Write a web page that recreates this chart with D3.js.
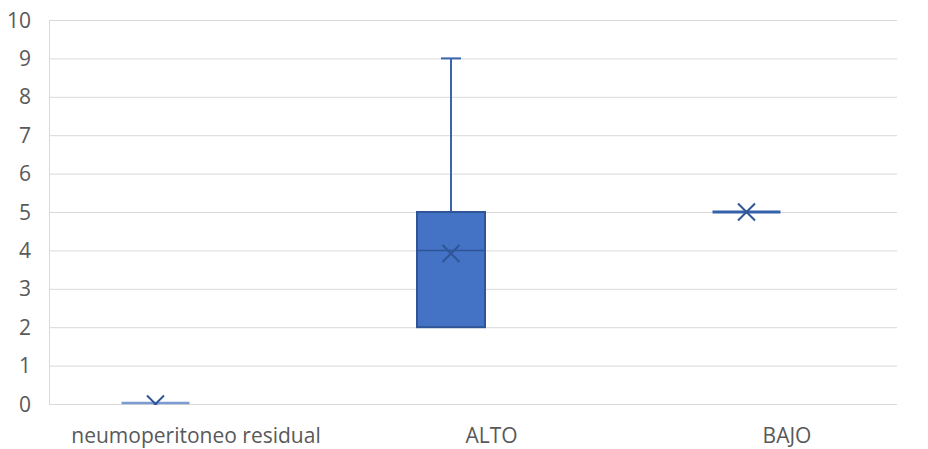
<!DOCTYPE html>
<html><head><meta charset="utf-8">
<script src="https://cdn.jsdelivr.net/npm/d3@7"></script>
<style>body{margin:0;background:#fff}svg{display:block}text{font-family:"Open Sans","Noto Sans",sans-serif;fill:#595959}</style>
</head><body><svg id="c" width="928" height="449"></svg>
<script>
const categories = ["neumoperitoneo residual", "ALTO", "BAJO"];
const minVals    = [0, 2, 5];
const q1Vals     = [0, 2, 5];
const medianVals = [0, 4, 5];
const q3Vals     = [0, 5, 5];
const maxVals    = [0, 9, 5];
const meanVals   = [0, 3.92, 5];
const yTicks     = [0,1,2,3,4,5,6,7,8,9,10];

(function(){
const data = categories.map((c,i)=>({c, min:minVals[i], q1:q1Vals[i], med:medianVals[i], q3:q3Vals[i], max:maxVals[i], mean:meanVals[i]}));

const svg = d3.select("#c");
const pL = 49, pR = 897, pT = 20, pB = 404;
const y = d3.scaleLinear().domain([0,10]).range([pB, pT]);
const x = d3.scalePoint().domain(categories).range([196, 787]);
const boxOff = -40.5;
const boxW = 68, capW = 20;
const fill = "#4472C4", dark = "#2F5597", wh = "#3A64AE";

svg.append("defs").append("clipPath").attr("id","plot")
  .append("rect").attr("x", pL).attr("y", 0).attr("width", pR-pL).attr("height", pB+1);

svg.append("g").selectAll("line").data(yTicks).join("line")
  .attr("x1", pL).attr("x2", pR)
  .attr("y1", d=>y(d)+0.5).attr("y2", d=>y(d)+0.5)
  .attr("stroke", "#D9D9D9").attr("stroke-width", 1);
svg.append("line").attr("x1", pL+0.5).attr("x2", pL+0.5).attr("y1", pT).attr("y2", pB)
  .attr("stroke", "#D9D9D9");

svg.append("g").selectAll("text").data(yTicks).join("text")
  .attr("x", 31).attr("y", d=>y(d)).attr("dy","0.36em")
  .attr("text-anchor","end").attr("font-size", 21).text(d=>d);

svg.append("g").selectAll("text").data(categories).join("text")
  .attr("x", d=>x(d)).attr("y", 443)
  .attr("text-anchor","middle").attr("font-size", 21).text(d=>d);

const g = svg.append("g").attr("clip-path","url(#plot)").selectAll("g").data(data).join("g");
const cx = d => x(d.c) + boxOff;
g.filter(d=>d.max>d.q3).append("line")
  .attr("x1", cx).attr("x2", cx).attr("y1", d=>y(d.q3)).attr("y2", d=>y(d.max))
  .attr("stroke", wh).attr("stroke-width", 2);
g.filter(d=>d.max>d.q3).append("line")
  .attr("x1", d=>cx(d)-capW/2).attr("x2", d=>cx(d)+capW/2).attr("y1", d=>y(d.max)).attr("y2", d=>y(d.max))
  .attr("stroke", wh).attr("stroke-width", 2);
g.filter(d=>d.min<d.q1).append("line")
  .attr("x1", cx).attr("x2", cx).attr("y1", d=>y(d.q1)).attr("y2", d=>y(d.min))
  .attr("stroke", wh).attr("stroke-width", 2);
g.filter(d=>d.q3>d.q1).append("rect")
  .attr("x", d=>cx(d)-boxW/2).attr("width", boxW)
  .attr("y", d=>y(d.q3)).attr("height", d=>y(d.q1)-y(d.q3))
  .attr("fill", fill).attr("stroke", dark).attr("stroke-width", 2);
g.filter(d=>d.q3>d.q1).append("line")
  .attr("x1", d=>cx(d)-boxW/2).attr("x2", d=>cx(d)+boxW/2).attr("y1", d=>y(d.med)).attr("y2", d=>y(d.med))
  .attr("stroke", dark).attr("stroke-width", 1.5);
g.filter(d=>d.q3===d.q1).append("line")
  .attr("x1", d=>cx(d)-boxW/2).attr("x2", d=>cx(d)+boxW/2)
  .attr("y1", d=>y(d.q1) - (d.q1===0?1:0)).attr("y2", d=>y(d.q1) - (d.q1===0?1:0))
  .attr("stroke", d=>d.q1===0 ? "#7D9BD3" : "#3561AB")
  .attr("stroke-width", d=>d.q1===0 ? 2.5 : 3);
const m = 8.5;
g.append("path")
  .attr("d", d=>{const px=cx(d), py=y(d.mean); return `M${px-m},${py-m}L${px+m},${py+m}M${px-m},${py+m}L${px+m},${py-m}`;})
  .attr("stroke", dark).attr("stroke-width", 2).attr("fill","none");
})();
</script></body></html>
